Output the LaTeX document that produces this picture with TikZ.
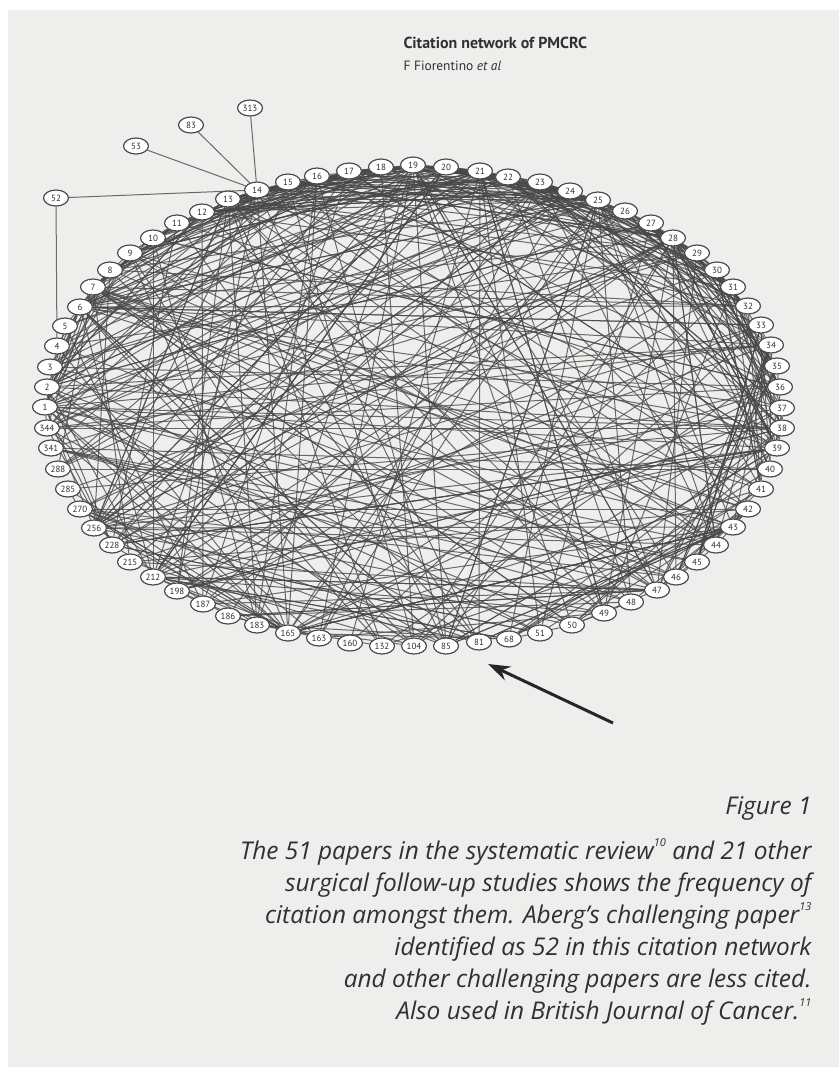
\documentclass[tikz,border=0pt]{standalone}
\usepackage{fontspec}
\setmainfont{PT Sans}
\setsansfont{PT Sans}
\newfontfamily\capfont{Open Sans}
\definecolor{cnpanel}{HTML}{EEEEEC}
\definecolor{cnink}{HTML}{303030}
\definecolor{cnedge}{HTML}{484848}
\usetikzlibrary{shapes.geometric, arrows.meta, backgrounds}

% papers in ring order, used to pick random citations
\def\ring{{1,2,3,4,5,6,7,8,9,10,11,12,13,14,15,16,17,18,19,20,21,22,23,24,25,
  26,27,28,29,30,31,32,33,34,35,36,37,38,39,40,41,42,43,44,45,46,47,48,49,50,51,
  68,81,85,104,132,160,163,165,183,186,187,198,212,215,228,256,270,285,288,341,344}}
\newcommand\refmark[1]{\raisebox{0.5em}{\fontsize{11}{11}\selectfont\itshape #1}}

\begin{document}
\begin{tikzpicture}[
  x=1bp, y=-1bp,
  paper/.style={ellipse, draw=black!70, fill=white, line width=1.2bp,
                minimum width=25bp, minimum height=16bp, inner sep=0pt,
                font=\fontsize{9}{9}\selectfont, text=cnink},
  cite/.style={draw=cnedge, line width=1bp, opacity=0.8},
  caption/.style={anchor=base east, text=cnink,
                  font=\capfont\fontsize{24.5}{24.5}\selectfont\itshape},
  pointer/.style={-{Stealth[length=22bp, width=15bp]}, line width=3bp, black!85}
]
  \useasboundingbox (0,0) rectangle (839,1070);

  \node[anchor=base west, text=cnink,
        font=\fontsize{16}{16}\selectfont\bfseries] (title) at (400,48)
    {Citation network of PMCRC};
  \node[anchor=base west, text=cnink,
        font=\fontsize{13.5}{13.5}\selectfont] (byline) at (400,70)
    {F Fiorentino \textit{et al}};

  % the 72 papers round the ellipse
  \foreach \num/\px/\py in {
    1/45/407, 2/47/387, 3/50/367, 4/57/346, 5/65/326, 6/80/307, 7/93/287,
    8/110/270, 9/130/253, 10/153/238, 11/177/223, 12/202/212, 13/228/199,
    14/257/190, 15/288/182, 16/317/176, 17/349/171, 18/381/167, 19/413/165,
    20/446/167, 21/480/171, 22/508/177, 23/540/182, 24/570/191, 25/598/200,
    26/625/211, 27/651/223, 28/673/238, 29/697/253, 30/717/270, 31/733/287,
    32/748/306, 33/761/325, 34/771/345, 35/777/366, 36/780/387, 37/782/408,
    38/782/428, 39/777/448, 40/770/469, 41/761/489, 42/748/509, 43/733/527,
    44/716/545, 45/697/562, 46/676/577, 47/657/590, 48/631/602, 49/604/613,
    50/572/625, 51/540/633, 68/509/639, 81/479/642, 85/446/646, 104/414/646,
    132/382/646, 160/350/643, 163/319/638, 165/288/633, 183/257/625,
    186/228/616, 187/203/604, 198/177/591, 212/153/577, 215/130/562,
    228/112/545, 256/94/528, 270/80/509, 285/68/489, 288/58/469,
    341/51/448, 344/47/428}
    \node[paper] (p\num) at (\px,\py) {\num};

  % challenging papers outside the ring
  \node[paper] (p52)  at (56,198)  {52};
  \node[paper] (p53)  at (136,146) {53};
  \node[paper] (p83)  at (191,125) {83};
  \node[paper] (p313) at (250,108) {313};

  \begin{scope}[on background layer]
    \fill[white] (0,0) rectangle (839,1070);
    \fill[cnpanel] (8,10) rectangle (839,1067);

    \draw[cite] (p52) -- (p14);
    \draw[cite] (p52) -- (p4);
    \draw[cite] (p53) -- (p14);
    \draw[cite] (p83) -- (p14);
    \draw[cite] (p313) -- (p14);
    \draw[cite] (p10) -- (p212);
    \draw[cite] (p21) -- (p81);
    \draw[cite] (p2) -- (p38);
    \draw[cite] (p256) -- (p43);
    \draw[cite] (p212) -- (p47);

    \pgfmathsetseed{4711}
    % short chords over the top of the ring
    \foreach \k in {1,...,150}{
      \pgfmathrandominteger{\ia}{5}{34}
      \pgfmathrandominteger{\off}{2}{12}
      \pgfmathtruncatemacro\ib{mod(\ia+\off,72)}
      \pgfmathtruncatemacro\pa{\ring[\ia]}
      \pgfmathtruncatemacro\pb{\ring[\ib]}
      \draw[cite] (p\pa) -- (p\pb);
    }
    % much cited papers
    \foreach \h in {2,7,6,212,256,165,38,39,47,21,19,13,25,28,43,1}{
      \foreach \k in {1,...,12}{
        \pgfmathrandominteger{\ib}{0}{71}
        \pgfmathtruncatemacro\pb{\ring[\ib]}
        \ifnum\h=\pb\else\draw[cite] (p\h) -- (p\pb);\fi
      }
    }
    % the rest of the citations
    \foreach \k in {1,...,200}{
      \pgfmathrandominteger{\ia}{0}{71}
      \pgfmathrandominteger{\ib}{0}{71}
      \pgfmathtruncatemacro\pa{\ring[\ia]}
      \pgfmathtruncatemacro\pb{\ring[\ib]}
      \ifnum\pa=\pb\else\draw[cite] (p\pa) -- (p\pb);\fi
    }
  \end{scope}

  \coordinate (tail) at (613,723);
  \coordinate (tip)  at (488,664);
  \draw[pointer] (tail) -- (tip);

  \node[caption] (fig) at (815,814) {Figure 1};
  \foreach \line [count=\i] in {
    {The 51 papers in the systematic review\refmark{10} and 21 other},
    {surgical follow-up studies shows the frequency of},
    {citation amongst them. Aberg’s challenging paper\refmark{13}},
    {identified as 52 in this citation network},
    {and other challenging papers are less cited.},
    {Also used in British Journal of Cancer.\refmark{11}}}
    \node[caption] (cap\i) at (815,{859+32*(\i-1)}) {\line};
\end{tikzpicture}
\end{document}
